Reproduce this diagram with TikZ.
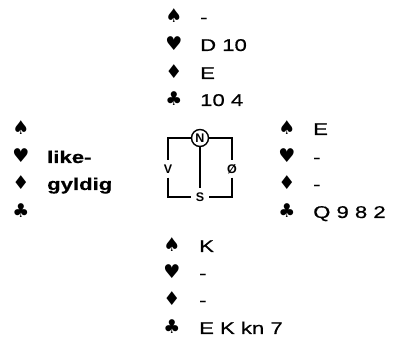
\documentclass[tikz,border=0pt]{standalone}
\usepackage{fontspec}
\setmainfont{Liberation Sans}
\newfontfamily\handfont{Liberation Sans}[FakeStretch=1.3, FakeBold=0.6]
\newfontfamily\suitfont{DejaVu Sans}
\begin{document}
\begin{tikzpicture}[x=1pt, y=-1pt,
    suit/.style={anchor=base, inner sep=0pt, font=\suitfont\fontsize{19}{19}\selectfont},
    holding/.style={anchor=base west, inner sep=0pt, font=\handfont\fontsize{17}{17}\selectfont},
    wide/.style={holding, font=\handfont\bfseries\fontsize{17}{17}\selectfont},
    seat/.style={inner sep=0pt, minimum size=17pt, font=\bfseries\fontsize{12.5}{12.5}\selectfont},
    frame/.style={line width=1.4pt}
  ]
  \useasboundingbox (0,0) rectangle (394,339);

  % north
  \foreach \y/\s/\c [count=\i] in {23/♠/-, 51/♥/D 10, 79/♦/E, 106/♣/10 4} {
    \node[suit] (ns\i) at (174,\y) {\s};
    \node[holding] (nh\i) at (200,\y) {\c};
  }
  % west
  \foreach \y/\s/\c [count=\i] in {135/♠/, 163/♥/like-, 190/♦/gyldig, 218/♣/} {
    \node[suit] (ws\i) at (21,\y) {\s};
    \node[wide] (wh\i) at (47,\y) {\c};
  }
  % east
  \foreach \y/\s/\c [count=\i] in {135/♠/E, 163/♥/-, 190/♦/-, 218/♣/Q 9 8 2} {
    \node[suit] (es\i) at (287,\y) {\s};
    \node[holding] (eh\i) at (313,\y) {\c};
  }
  % south
  \foreach \y/\s/\c [count=\i] in {252/♠/K, 279/♥/-, 306/♦/-, 334/♣/E K kn 7} {
    \node[suit] (ss\i) at (172,\y) {\s};
    \node[holding] (sh\i) at (199,\y) {\c};
  }

  % compass
  \node[seat, draw, circle, minimum size=17pt, line width=1.4pt] (north) at (200,138) {N};
  \node[seat] (west) at (168,169) {V};
  \node[seat] (east) at (232,169) {Ø};
  \node[seat] (south) at (200,197) {S};
  \coordinate (nw) at (168,138);
  \coordinate (ne) at (232,138);
  \coordinate (sw) at (168,197);
  \coordinate (se) at (232,197);
  \coordinate (stem) at (200,188);
  \draw[frame] (north) -- (nw) -- (west) -- (sw) -- (south);
  \draw[frame] (north) -- (ne) -- (east) -- (se) -- (south);
  \draw[frame] (north) -- (stem);
\end{tikzpicture}
\end{document}
